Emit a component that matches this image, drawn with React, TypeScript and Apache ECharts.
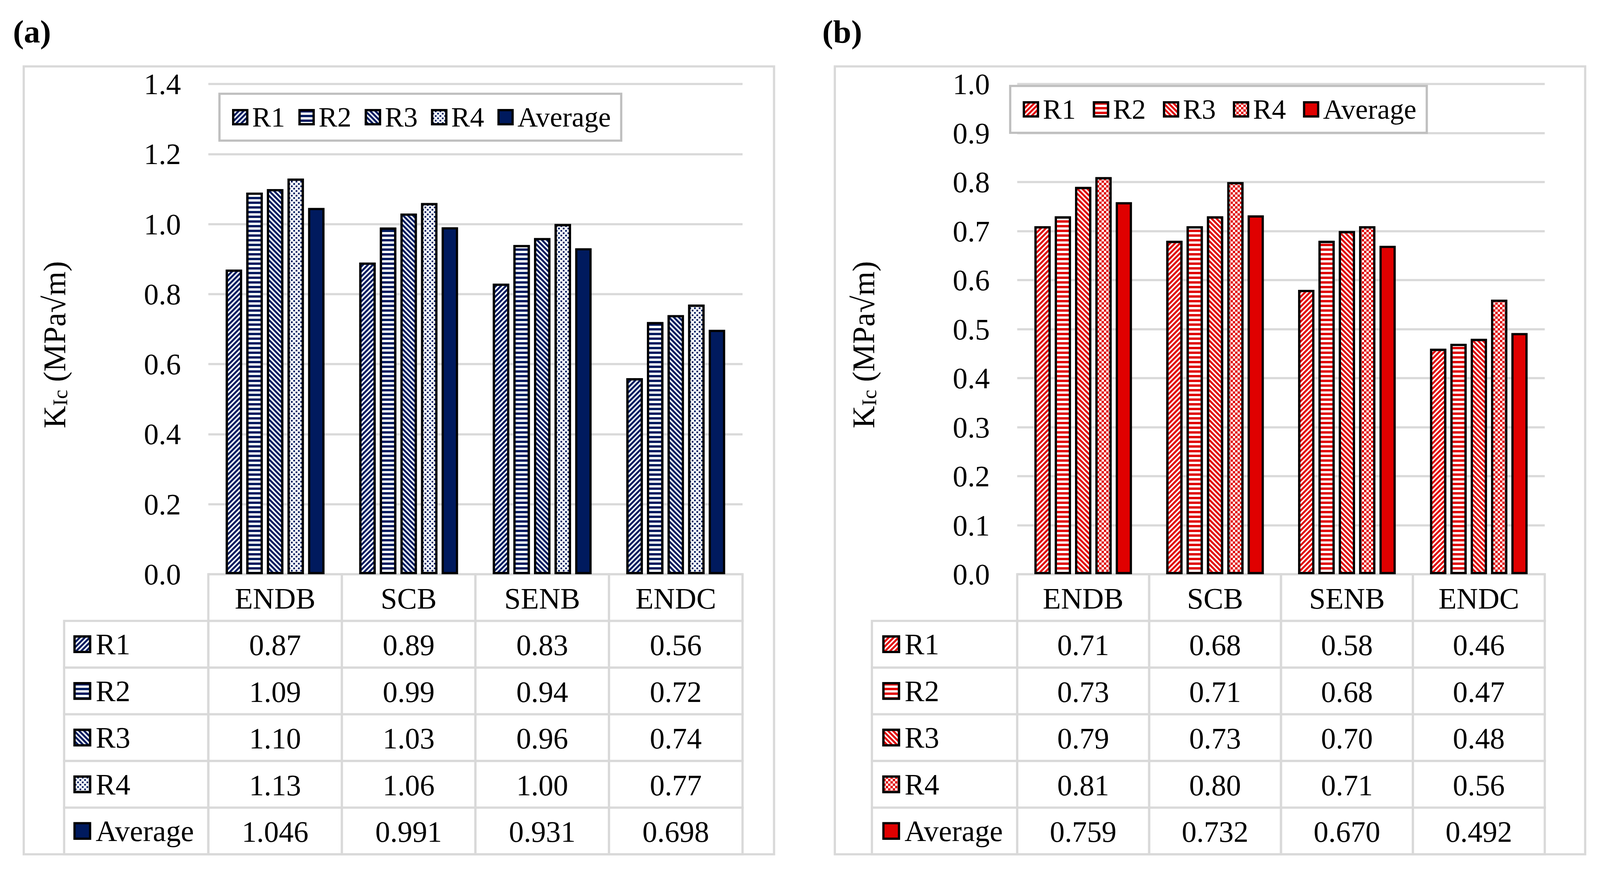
import React, { useEffect, useRef } from 'react';
import * as echarts from 'echarts';

// ---------- data ----------
const categories = ['ENDB', 'SCB', 'SENB', 'ENDC'];
const seriesNames = ['R1', 'R2', 'R3', 'R4', 'Average'];

const aR1 = [0.87, 0.89, 0.83, 0.56];
const aR2 = [1.09, 0.99, 0.94, 0.72];
const aR3 = [1.10, 1.03, 0.96, 0.74];
const aR4 = [1.13, 1.06, 1.00, 0.77];
const aAvg = [1.046, 0.991, 0.931, 0.698];

const bR1 = [0.71, 0.68, 0.58, 0.46];
const bR2 = [0.73, 0.71, 0.68, 0.47];
const bR3 = [0.79, 0.73, 0.70, 0.48];
const bR4 = [0.81, 0.80, 0.71, 0.56];
const bAvg = [0.759, 0.732, 0.670, 0.492];

const aAxis = { min: 0, max: 1.4, interval: 0.2 };
const bAxis = { min: 0, max: 1.0, interval: 0.1 };

const panelLabels = ['(a)', '(b)'];
const axisTitle = '{k|K}{sub|Ic}{k| (MPa√m)}';

// ---------- styles ----------
const FONT = "'Liberation Serif', 'Times New Roman', serif";
const NAVY = '#001A5E';
const RED = '#E00000';
const GRID_GRAY = '#D9D9D9';
const REF_W = 4316;
const REF_H = 2240;

type Scale = { X: (v: number) => number; Y: (v: number) => number; F: (v: number) => number };

function decals(color: string, r4Size: number, s: Scale) {
  const d = (v: number) => Math.max(1, Math.round(s.F(v)));
  return [
    { symbol: 'rect', symbolSize: 1, color, dashArrayX: [1, 0], dashArrayY: [d(5), d(4)], rotation: -Math.PI / 4 },
    { symbol: 'rect', symbolSize: 1, color, dashArrayX: [1, 0], dashArrayY: [d(6), d(6)], rotation: 0 },
    { symbol: 'rect', symbolSize: 1, color, dashArrayX: [1, 0], dashArrayY: [d(5), d(4)], rotation: Math.PI / 4 },
    { symbol: 'rect', symbolSize: r4Size, color, dashArrayX: [[d(6), d(6)], [0, d(6), d(6), 0]], dashArrayY: [d(6), 0], rotation: 0 },
    null,
  ];
}

type PanelGeom = {
  prefix: string;
  color: string;
  r4Size: number;
  values: number[][];
  axis: { min: number; max: number; interval: number };
  gridLeft: number;
  gridWidth: number;
  labelColWidth: number;
  legendH: { left: number; top: number; gap: number };
  legendVLeft: number;
  gridIndex: number;
};

const TOP = 215;
const BASE = 1470;
const TABLE_BOTTOM = 2187;
const ROW_H = (TABLE_BOTTOM - BASE) / 6;

function buildPanel(p: PanelGeom, s: Scale) {
  const { X, Y, F } = s;
  const g = p.gridIndex;
  const decs = decals(p.color, p.r4Size, s);
  const names = seriesNames.map((n) => p.prefix + ':' + n);
  const lw = F(6);
  const grids = [
    { left: X(p.gridLeft), top: Y(TOP), width: X(p.gridWidth), height: Y(BASE - TOP) },
    { left: X(p.gridLeft), top: Y(BASE), width: X(p.gridWidth), height: Y(TABLE_BOTTOM - BASE) },
  ];
  const xAxes = [
    {
      gridIndex: g, type: 'category', data: categories,
      axisLine: { show: false }, axisTick: { show: false }, axisLabel: { show: false }, splitLine: { show: false },
    },
    { gridIndex: g + 1, type: 'category', data: categories, show: false },
  ];
  const yAxes = [
    {
      gridIndex: g, type: 'value', min: p.axis.min, max: p.axis.max, interval: p.axis.interval,
      axisLine: { show: false }, axisTick: { show: false },
      axisLabel: {
        formatter: (v: number) => v.toFixed(1), fontSize: F(80), fontFamily: FONT, color: '#000', margin: X(74),
      },
      splitLine: { lineStyle: { color: GRID_GRAY, width: lw } },
      name: axisTitle, nameLocation: 'middle', nameGap: X(372),
      nameTextStyle: {
        color: '#000', fontFamily: FONT, padding: [0, Y(80), 0, 0],
        rich: {
          k: { fontSize: F(84), lineHeight: F(100), verticalAlign: 'bottom', fontFamily: FONT, color: '#000' },
          sub: { fontSize: F(56), lineHeight: F(56), verticalAlign: 'bottom', fontFamily: FONT, color: '#000' },
        },
      },
    },
    { gridIndex: g + 1, type: 'category', data: ['', ...seriesNames], inverse: true, show: false },
  ];

  const barSeries = p.values.map((vals, i) => {
    const itemStyle: any = {
      color: i === 4 ? p.color : '#ffffff',
      borderColor: '#000',
      borderWidth: lw,
    };
    if (decs[i]) itemStyle.decal = decs[i];
    return {
      type: 'bar', name: names[i], xAxisIndex: g, yAxisIndex: g, data: vals,
      barGap: '25%', barCategoryGap: '26%', itemStyle,
      emphasis: { disabled: true },
    };
  });

  // table cells
  const cellData: number[][] = [];
  const cellText: string[] = [];
  categories.forEach((c, ci) => { cellData.push([ci, 0]); cellText.push(c); });
  p.values.forEach((vals, ri) => {
    vals.forEach((v, ci) => {
      cellData.push([ci, ri + 1]);
      cellText.push(ri === 4 ? v.toFixed(3) : v.toFixed(2));
    });
  });

  const labelW = X(p.labelColWidth);
  const tableSeries = {
    type: 'custom', xAxisIndex: g + 1, yAxisIndex: g + 1, clip: false, silent: true,
    data: cellData,
    renderItem: (params: any, api: any) => {
      const c = api.value(0);
      const r = api.value(1);
      const pt = api.coord([c, r]);
      const sz = api.size([1, 1]);
      const w = sz[0];
      const h = sz[1];
      const stroke = { fill: 'none', stroke: GRID_GRAY, lineWidth: lw };
      const children: any[] = [
        { type: 'rect', shape: { x: pt[0] - w / 2, y: pt[1] - h / 2, width: w, height: h }, style: stroke },
        {
          type: 'text',
          style: {
            text: cellText[params.dataIndex], x: pt[0], y: pt[1] + F(2), align: 'center', verticalAlign: 'middle',
            fontSize: F(80), fontFamily: FONT, fill: '#000',
          },
        },
      ];
      if (c === 0 && r > 0) {
        children.push({
          type: 'rect',
          shape: { x: pt[0] - w / 2 - labelW, y: pt[1] - h / 2, width: labelW, height: h },
          style: stroke,
        });
      }
      return { type: 'group', children };
    },
  };

  const legendFormatter = (n: string) => n.split(':')[1];
  const rowH = Y(ROW_H);
  const vItemH = Math.min(F(100), rowH - 2);
  const legends = [
    {
      orient: 'horizontal', left: X(p.legendH.left), top: Y(p.legendH.top), data: names,
      formatter: legendFormatter, icon: 'rect', itemWidth: F(38), itemHeight: F(38), itemGap: F(p.legendH.gap),
      padding: [Y(20), F(28), Y(20), F(34)], borderColor: '#BFBFBF', borderWidth: lw, selectedMode: false,
      itemStyle: { borderColor: '#000', borderWidth: lw },
      textStyle: { fontSize: F(76), lineHeight: Y(80), fontFamily: FONT, color: '#000', padding: [0, 0, 0, F(8)] },
    },
    {
      orient: 'vertical', left: X(p.legendVLeft), top: Y(BASE) + rowH + (rowH - vItemH) / 2, data: names,
      formatter: legendFormatter, icon: 'rect', itemWidth: F(42), itemHeight: F(42), itemGap: rowH - vItemH,
      padding: 0, align: 'left', selectedMode: false,
      itemStyle: { borderColor: '#000', borderWidth: lw },
      textStyle: { fontSize: F(80), lineHeight: vItemH, fontFamily: FONT, color: '#000', padding: [0, 0, 0, F(10)] },
    },
  ];

  return { grids, xAxes, yAxes, series: [...barSeries, tableSeries], legends };
}

export default function App() {
  const ref = useRef<HTMLDivElement>(null);
  useEffect(() => {
    const el = ref.current;
    if (!el) return;
    const W = el.clientWidth || REF_W;
    const H = el.clientHeight || REF_H;
    const sx = W / REF_W;
    const sy = H / REF_H;
    const fs = Math.min(sx, sy);
    const s: Scale = { X: (v) => v * sx, Y: (v) => v * sy, F: (v) => v * fs };
    const chart = echarts.init(el, undefined, { renderer: 'svg', width: W, height: H });
    const pa = buildPanel({
      prefix: 'a', color: NAVY, r4Size: 0.75, values: [aR1, aR2, aR3, aR4, aAvg], axis: aAxis,
      gridLeft: 562, gridWidth: 1441, labelColWidth: 389,
      legendH: { left: 592, top: 240, gap: 36 }, legendVLeft: 198, gridIndex: 0,
    }, s);
    const pb = buildPanel({
      prefix: 'b', color: RED, r4Size: 1, values: [bR1, bR2, bR3, bR4, bAvg], axis: bAxis,
      gridLeft: 2744, gridWidth: 1423, labelColWidth: 392,
      legendH: { left: 2725, top: 220, gap: 46 }, legendVLeft: 2380, gridIndex: 2,
    }, s);
    const lw = s.F(6);
    const option: any = {
      animation: false,
      backgroundColor: '#ffffff',
      textStyle: { fontFamily: FONT },
      grid: [...pa.grids, ...pb.grids],
      xAxis: [...pa.xAxes, ...pb.xAxes],
      yAxis: [...pa.yAxes, ...pb.yAxes],
      legend: [...pa.legends, ...pb.legends],
      series: [...pa.series, ...pb.series],
      graphic: [
        { type: 'rect', z: -1, shape: { x: s.X(64), y: s.Y(170), width: s.X(2024), height: s.Y(2017) }, style: { fill: 'none', stroke: GRID_GRAY, lineWidth: lw } },
        { type: 'rect', z: -1, shape: { x: s.X(2252), y: s.Y(170), width: s.X(2024), height: s.Y(2017) }, style: { fill: 'none', stroke: GRID_GRAY, lineWidth: lw } },
        { type: 'text', x: s.X(35), y: s.Y(81), style: { text: panelLabels[0], fontSize: s.F(88), fontWeight: 'bold', fontFamily: FONT, fill: '#000', verticalAlign: 'middle' } },
        { type: 'text', x: s.X(2218), y: s.Y(81), style: { text: panelLabels[1], fontSize: s.F(88), fontWeight: 'bold', fontFamily: FONT, fill: '#000', verticalAlign: 'middle' } },
      ],
    };
    chart.setOption(option);
    return () => chart.dispose();
  }, []);
  return (
    <div
      ref={ref}
      style={{ position: 'fixed', left: 0, top: 0, width: '100vw', height: '100vh', background: '#fff' }}
    />
  );
}
